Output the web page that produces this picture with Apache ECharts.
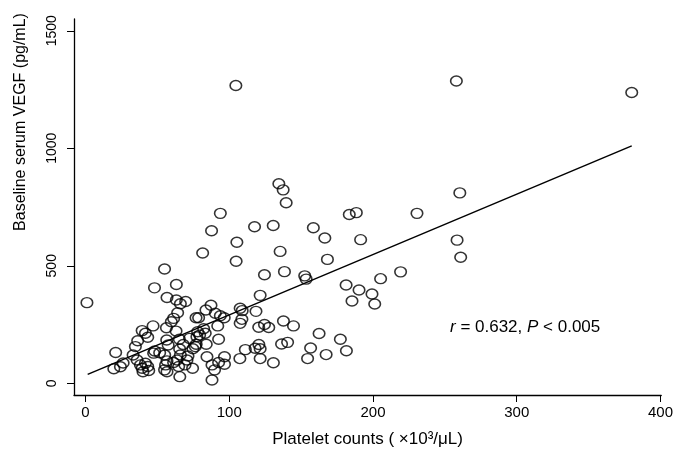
<!DOCTYPE html>
<html><head><meta charset="utf-8">
<script src="https://cdn.jsdelivr.net/npm/echarts@6/dist/echarts.min.js"></script>
<style>html,body{margin:0;padding:0;background:#fff}#c{width:676px;height:453px}</style>
</head><body><div id="c"></div>
<script>
const xTicks = [0, 100, 200, 300, 400];
const yTicks = [0, 500, 1000, 1500];
const xTitle = 'Platelet counts ( \u00d710\u00b3/\u03bcL)';
const yTitle = 'Baseline serum VEGF (pg/mL)';
const statText = '{i|r} = 0.632, {i|P} < 0.005';

const platelet = [1, 104.6, 258, 380, 134.5, 137.5, 139.6, 93.8, 87.7, 117.6,
  130.6, 158.5, 166.5, 183.5, 188.4, 191.4, 230.6, 260.4, 258.5, 261,
  105.3, 81.5, 135.4, 104.8, 168.3, 124.5, 138.4, 152.5, 153.5, 219.2,
  205.3, 181.3, 190.3, 199.3, 185.4, 201.2, 121.5, 55, 48, 63.2,
  56.7, 63.2, 66, 69.7, 64.1, 61.3, 59.7, 56.3, 63, 87.3,
  83.8, 90.3, 107.6, 109, 118.6, 93.8, 96.5, 76.9, 78.7, 92,
  82.2, 120.5, 124.5, 127.5, 137.7, 144.7, 107.6, 108.8, 162.5, 177.3,
  181.5, 167.4, 156.6, 154.5, 130.7, 136.4, 140.6, 120.6, 121.5, 118,
  111.2, 121.5, 107.4, 92.6, 84, 84.5, 96.7, 96.7, 92.6, 88,
  89.8, 88, 74.5, 65.6, 77.5, 77, 74.7, 21, 19.7, 24.3,
  26.2, 33.1, 34.7, 36.3, 39.4, 41.7, 43.3, 47, 47.4, 48.1,
  51.6, 35.9, 38.2, 41.7, 39.4, 43.3, 40, 44, 55.1, 56.7,
  55.7, 61.3, 63.7, 66, 65.5, 64.8, 69.2, 70.6, 71.3, 65.3,
  76.4, 72.4, 78, 79.4, 56.5, 57.5, 68, 56.7, 55, 83.3];
const vegf = [343, 1267, 1286, 1237, 849, 823, 768, 723, 649, 666,
  671, 662, 618, 718, 726, 611, 723, 810, 609, 536,
  600, 554, 561, 519, 527, 462, 475, 457, 443, 474,
  445, 418, 397, 380, 350, 337, 374, 486, 406, 420,
  365, 354, 338, 348, 300, 276, 262, 236, 222, 332,
  312, 298, 319, 309, 306, 287, 279, 279, 279, 244,
  232, 238, 250, 237, 265, 244, 255, 272, 212, 187,
  138, 122, 150, 105, 87, 167, 174, 165, 147, 149,
  143, 105, 105, 187, 166, 113, 113, 81, 88, 78,
  57, 14, 64, 28, 198, 166, 147, 131, 62, 70,
  86, 120, 156, 181, 224, 213, 196, 244, 128, 137,
  130, 99, 78, 85, 64, 71, 49, 54, 120, 95,
  78, 88, 99, 120, 146, 71, 78, 99, 116, 187,
  156, 191, 219, 205, 184, 163, 165, 49, 57, 213];
const fitX = [1.5, 380];
const fitY = [38, 1010];

const font = 'Liberation Sans, Arial, sans-serif';
const chart = echarts.init(document.getElementById('c'), null, {renderer: 'canvas'});
const pts = platelet.map((x, i) => [x, vegf[i]]);
const fit = fitX.map((x, i) => [x, fitY[i]]);
const plain = v => String(v);

chart.setOption({
  animation: false,
  backgroundColor: '#fff',
  grid: {left: 74, right: 14, top: 19, bottom: 58, containLabel: false},
  xAxis: {
    type: 'value', min: -8, max: 400.5,
    axisLine: {onZero: false, lineStyle: {color: '#000', width: 1.3}},
    axisTick: {customValues: xTicks, length: 7, lineStyle: {color: '#000', width: 1}},
    axisLabel: {customValues: xTicks, formatter: plain, margin: 10, color: '#000', fontSize: 15, fontFamily: font},
    splitLine: {show: false},
    name: xTitle, nameLocation: 'middle', nameGap: 36,
    nameTextStyle: {color: '#000', fontSize: 17, fontFamily: font}
  },
  yAxis: {
    type: 'value', min: -50, max: 1550,
    axisLine: {onZero: false, lineStyle: {color: '#000', width: 1.3}},
    axisTick: {customValues: yTicks, length: 7, lineStyle: {color: '#000', width: 1}},
    axisLabel: {customValues: yTicks, formatter: plain, rotate: 90, margin: 15, color: '#000', fontSize: 14, fontFamily: font},
    splitLine: {show: false}
  },
  graphic: [
    {type: 'text', x: 21, y: 122, rotation: Math.PI / 2,
     style: {text: yTitle, fill: '#000', font: '16px ' + font, align: 'center', verticalAlign: 'middle'}},
    {type: 'text', left: 450, top: 319,
     style: {text: statText, fill: '#000', font: '17px ' + font,
       rich: {i: {fontStyle: 'italic', fontSize: 17, fontFamily: font, fill: '#000'}}}}
  ],
  series: [
    {type: 'scatter', data: pts, symbol: 'circle', symbolSize: [11.5, 10],
     itemStyle: {color: 'rgba(0,0,0,0)', borderColor: '#000', borderWidth: 1.5}, z: 3},
    {type: 'line', data: fit, showSymbol: false, symbol: 'none',
     lineStyle: {color: '#000', width: 1.5}, z: 2}
  ]
});
</script></body></html>
